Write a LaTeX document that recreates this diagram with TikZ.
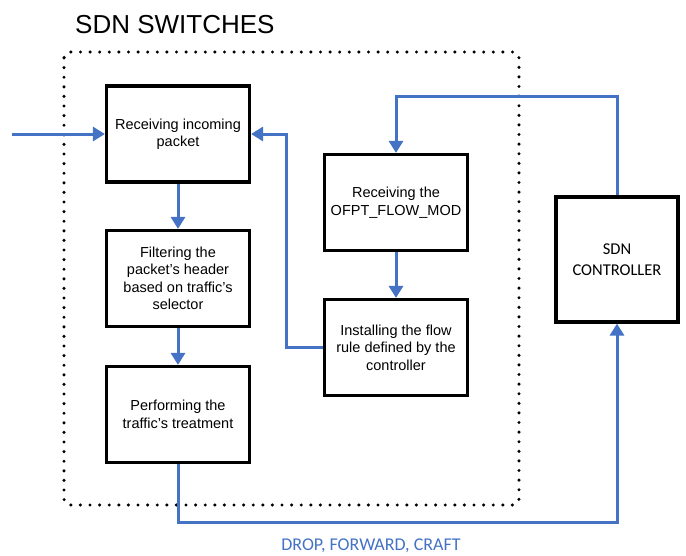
\documentclass[tikz,border=0pt]{standalone}
\usepackage{fontspec}
\setmainfont{Liberation Sans}
\newfontfamily\calibrifont{Carlito}
\usepackage{xcolor}
\usetikzlibrary{arrows.meta}
\definecolor{linkblue}{HTML}{4472C4}

\begin{document}
\begin{tikzpicture}[x=1pt, y=-1pt,
    stepbox/.style={draw, line width=3.2pt, minimum width=143pt, minimum height=96pt,
        align=center, inner sep=2pt, font=\fontsize{14.5}{17.5}\selectfont},
    flow/.style={draw=linkblue, line width=3pt, -{Triangle[length=12pt,width=14pt]}},
    switchframe/.style={line width=3.4pt, line cap=round, dash pattern=on 0pt off 9.6pt, rounded corners=6pt}]
    \useasboundingbox (0,0) rectangle (686,555);

    % Switch frame and its title
    \draw[switchframe] (64,52) rectangle (519,505);
    \node[anchor=base west, font=\fontsize{26}{30}\selectfont, inner sep=0pt] (title) at (75,33) {SDN SWITCHES};

    % Packet pipeline
    \node[stepbox] (receive) at (178,134) {Receiving incoming\\packet};
    \node[stepbox] (filter) at (178,278.5) {Filtering the\\packet's header\\based on traffic's\\selector};
    \node[stepbox] (treat) at (178,414.5) {Performing the\\traffic's treatment};

    % Flow rule installation
    \node[stepbox] (flowmod) at (396,202.5) {Receiving the\\OFPT\_FLOW\_MOD};
    \node[stepbox] (install) at (396,347.5) {Installing the flow\\rule defined by the\\controller};

    % Controller
    \node[stepbox, minimum width=122pt, minimum height=125pt,
        font=\calibrifont\fontsize{16.5}{21}\selectfont] (ctrl) at (617,259.5) {SDN\\CONTROLLER};

    % Connectors
    \coordinate (inport) at (12,134);
    \draw[flow] (inport) -- (receive.west);
    \draw[flow] (receive) -- (filter);
    \draw[flow] (filter) -- (treat);
    \draw[flow] (flowmod) -- (install);
    \draw[flow] (install.west) -- ++(-36,0) |- (receive.east);
    \draw[flow] (ctrl.north) -- ++(0,-99) -| (flowmod.north);
    \draw[flow] (treat.south) -- ++(0,58) -| (ctrl.south);

    \node[font=\calibrifont\fontsize{18}{21}\selectfont, text=linkblue] (actions) at (371,546) {DROP, FORWARD, CRAFT};
\end{tikzpicture}
\end{document}
